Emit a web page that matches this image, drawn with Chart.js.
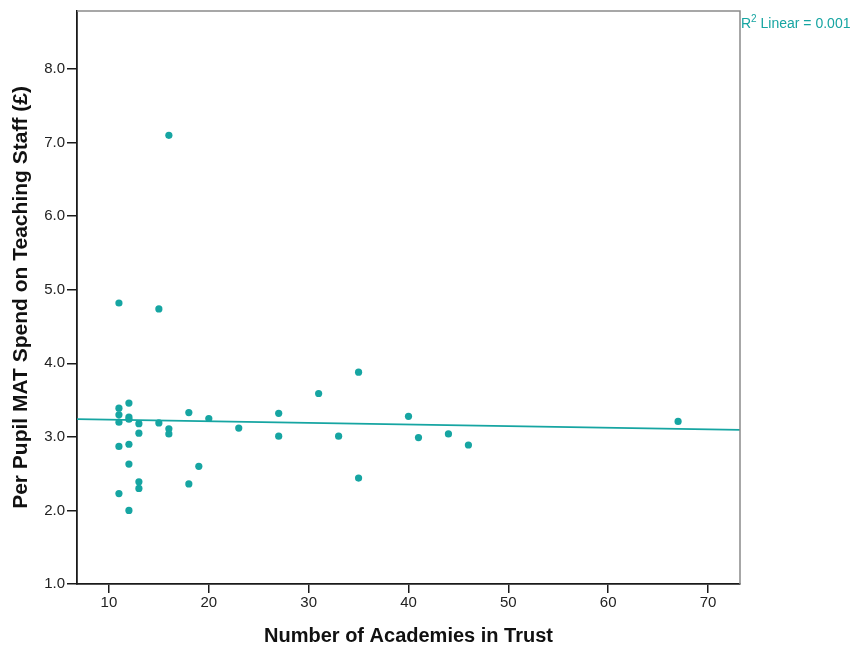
<!DOCTYPE html>
<html>
<head>
<meta charset="utf-8">
<script src="https://cdn.jsdelivr.net/npm/chart.js@4/dist/chart.umd.min.js"></script>
<style>
  html, body { margin: 0; padding: 0; background: #ffffff; }
  canvas { display: block; }
</style>
</head>
<body>
<canvas id="chart" width="858" height="648"></canvas>
<script>
// Number of academies in each multi-academy trust
const academies = [
  11, 11, 11, 11, 11, 11,
  12, 12, 12, 12, 12, 12,
  13, 13, 13, 13,
  15, 15,
  16, 16, 16,
  18, 18,
  19, 20, 23,
  27, 27,
  31, 33,
  35, 35,
  40, 41, 44, 46, 67
];

// Per pupil spend on teaching staff (£)
const spend = [
  4.82, 3.39, 3.30, 3.20, 2.87, 2.23,
  3.46, 3.27, 3.24, 2.90, 2.63, 2.00,
  3.18, 3.05, 2.39, 2.30,
  4.74, 3.19,
  7.10, 3.11, 3.04,
  3.33, 2.36,
  2.60, 3.25, 3.12,
  3.32, 3.01,
  3.59, 3.01,
  3.88, 2.44,
  3.28, 2.99, 3.04, 2.89, 3.21
];

const xTicks = [10, 20, 30, 40, 50, 60, 70];
const yTicks = [1, 2, 3, 4, 5, 6, 7, 8];
const xRange = [6.8, 73.2];
const yRange = [1, 8.79];
const fitLabel = 'Linear = 0.001';

const teal = '#16a5a2';
const axisColor = '#1a1a1a';
const frameColor = '#8a8a8a';
const textColor = '#222222';
const sans = '"Liberation Sans", Arial, sans-serif';

// Ordinary least squares fit of spend on number of academies
function leastSquares(xs, ys) {
  const n = xs.length;
  const mx = xs.reduce((a, b) => a + b, 0) / n;
  const my = ys.reduce((a, b) => a + b, 0) / n;
  let sxy = 0, sxx = 0;
  for (let i = 0; i < n; i++) {
    sxy += (xs[i] - mx) * (ys[i] - my);
    sxx += (xs[i] - mx) * (xs[i] - mx);
  }
  const slope = sxy / sxx;
  return { slope, intercept: my - slope * mx };
}

const fit = leastSquares(academies, spend);
const fitPoints = xRange.map(x => ({ x, y: fit.intercept + fit.slope * x }));
const points = academies.map((x, i) => ({ x, y: spend[i] }));

// Grey frame on the top and right, plus the fit annotation outside the plot
const framePlugin = {
  id: 'frame',
  afterDraw(chart) {
    const { ctx, chartArea: a } = chart;
    ctx.save();
    ctx.strokeStyle = frameColor;
    ctx.lineWidth = 1.5;
    ctx.beginPath();
    ctx.moveTo(a.left, a.top);
    ctx.lineTo(a.right, a.top);
    ctx.lineTo(a.right, a.bottom);
    ctx.stroke();

    ctx.fillStyle = teal;
    ctx.textBaseline = 'alphabetic';
    ctx.textAlign = 'left';
    const x0 = a.right + 1;
    const base = 28;
    ctx.font = '14px ' + sans;
    ctx.fillText('R', x0, base);
    const rw = ctx.measureText('R').width;
    ctx.font = '10px ' + sans;
    ctx.fillText('2', x0 + rw, base - 6);
    const sw = ctx.measureText('2').width;
    ctx.font = '14px ' + sans;
    ctx.fillText(' ' + fitLabel, x0 + rw + sw, base);
    ctx.restore();
  }
};

new Chart(document.getElementById('chart'), {
  type: 'scatter',
  data: {
    datasets: [
      {
        label: 'Trusts',
        data: points,
        backgroundColor: teal,
        borderWidth: 0,
        pointRadius: 3.6,
        pointHoverRadius: 3.6
      },
      {
        label: 'Linear fit',
        data: fitPoints,
        showLine: true,
        borderColor: teal,
        borderWidth: 1.6,
        pointRadius: 0,
        fill: false
      }
    ]
  },
  options: {
    responsive: false,
    animation: false,
    events: [],
    layout: { padding: { left: 0, top: 10, right: 118, bottom: 0 } },
    plugins: {
      legend: { display: false },
      tooltip: { enabled: false }
    },
    scales: {
      x: {
        type: 'linear',
        position: 'bottom',
        min: xRange[0],
        max: xRange[1],
        afterBuildTicks(scale) { scale.ticks = xTicks.map(v => ({ value: v })); },
        afterFit(scale) { scale.height = 64; },
        grid: { display: true, drawOnChartArea: false, drawTicks: true, tickLength: 9, color: axisColor, lineWidth: 1.5 },
        border: { display: true, color: axisColor, width: 1.8 },
        ticks: {
          padding: 1,
          color: textColor,
          font: { family: sans, size: 15 },
          callback: v => String(v)
        },
        title: {
          display: true,
          text: 'Number of Academies in Trust',
          color: '#111111',
          font: { family: sans, size: 20, weight: 'bold' },
          padding: { top: 0, bottom: 0 }
        }
      },
      y: {
        type: 'linear',
        min: yRange[0],
        max: yRange[1],
        afterBuildTicks(scale) { scale.ticks = yTicks.map(v => ({ value: v })); },
        afterFit(scale) { scale.width = 77; },
        grid: { display: true, drawOnChartArea: false, drawTicks: true, tickLength: 10, color: axisColor, lineWidth: 1.5 },
        border: { display: true, color: axisColor, width: 1.8 },
        ticks: {
          padding: 2,
          color: textColor,
          font: { family: sans, size: 15 },
          callback: v => Number(v).toFixed(1)
        },
        title: {
          display: true,
          text: 'Per Pupil MAT Spend on Teaching Staff (£)',
          color: '#111111',
          font: { family: sans, size: 21, weight: 'bold' },
          padding: { top: 9, bottom: 0 }
        }
      }
    }
  },
  plugins: [framePlugin]
});
</script>
</body>
</html>
